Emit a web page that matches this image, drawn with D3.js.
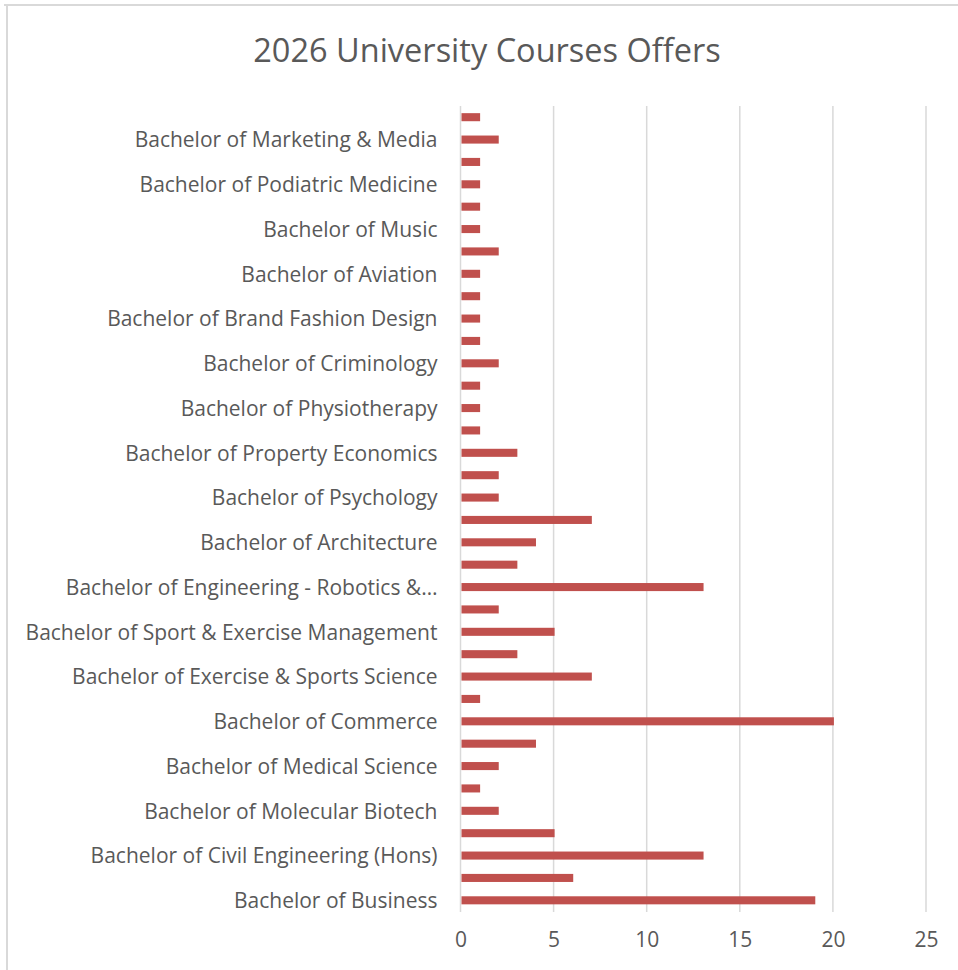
<!DOCTYPE html>
<html>
<head>
<meta charset="utf-8">
<script src="https://cdn.jsdelivr.net/npm/d3@7"></script>
<style>
	body { margin: 0; background: #fff; }
	text { font-family: "Open Sans", "Noto Sans", sans-serif; fill: #595959; }
</style>
</head>
<body>
<svg id="chart" width="958" height="970"></svg>
<script>
// categories listed bottom to top, only every other one gets a visible label
var categories = [
	"Bachelor of Business", "",
	"Bachelor of Civil Engineering (Hons)", "",
	"Bachelor of Molecular Biotech", "",
	"Bachelor of Medical Science", "",
	"Bachelor of Commerce", "",
	"Bachelor of Exercise & Sports Science", "",
	"Bachelor of Sport & Exercise Management", "",
	"Bachelor of Engineering - Robotics &\u2026", "",
	"Bachelor of Architecture", "",
	"Bachelor of Psychology", "",
	"Bachelor of Property Economics", "",
	"Bachelor of Physiotherapy", "",
	"Bachelor of Criminology", "",
	"Bachelor of Brand Fashion Design", "",
	"Bachelor of Aviation", "",
	"Bachelor of Music", "",
	"Bachelor of Podiatric Medicine", "",
	"Bachelor of Marketing & Media", ""
]
var offers = [19, 6, 13, 5, 2, 1, 2, 4, 20, 1, 7, 3, 5, 2, 13, 3, 4, 7,
	2, 2, 3, 1, 1, 1, 2, 1, 1, 1, 1, 2, 1, 1, 1, 1, 2, 1]
var xTicks = [0, 5, 10, 15, 20, 25]
var title = "2026 University Courses Offers"

var svg = d3.select("#chart")

// chart area frame (only top and left edges show in the picture)
svg.append("line").attr("x1", 4).attr("x2", 958).attr("y1", 5).attr("y2", 5)
	.attr("stroke", "#d9d9d9").attr("stroke-width", 2)
svg.append("line").attr("x1", 7).attr("x2", 7).attr("y1", 5).attr("y2", 970)
	.attr("stroke", "#d9d9d9").attr("stroke-width", 2)

svg.append("text")
	.attr("x", 487).attr("y", 62)
	.attr("text-anchor", "middle")
	.style("font-size", "32.5px")
	.text(title)

var xScale = d3.scaleLinear()
	.domain([0, 25])
	.range([460.5, 926]);

var yScale = d3.scaleBand()
	.domain(d3.range(categories.length))
	.range([911.5, 106])
	.paddingInner(0.64)
	.paddingOuter(0.32);

// vertical gridlines
svg.append("g")
	.selectAll("line")
	.data(xTicks)
	.enter().append("line")
		.attr("x1", function(d) { return xScale(d); })
		.attr("x2", function(d) { return xScale(d); })
		.attr("y1", 106)
		.attr("y2", 912)
		.attr("stroke", "#d9d9d9")
		.attr("stroke-width", 1.5);

svg.append("g")
	.selectAll("rect")
	.data(offers)
	.enter().append("rect")
		.attr("x", xScale(0) + 1)
		.attr("y", function(d, i) { return yScale(i); })
		.attr("width", function(d) { return xScale(d) - xScale(0); })
		.attr("height", yScale.bandwidth())
		.attr("fill", "#c0504d");

var yAxis = d3.axisLeft(yScale)
	.tickValues(d3.range(0, categories.length, 2))
	.tickFormat(function(i) { return categories[i]; })
	.tickSize(0)
	.tickPadding(23);

var gy = svg.append("g")
	.attr("transform", "translate(" + xScale(0) + ",1)")
	.call(yAxis);
gy.select(".domain").remove();
gy.selectAll("text").style("font-size", "21px").attr("font-family", null).attr("fill", null);

var xAxis = d3.axisBottom(xScale)
	.tickValues(xTicks)
	.tickSize(0)
	.tickPadding(20);

var gx = svg.append("g")
	.attr("transform", "translate(0,912)")
	.call(xAxis);
gx.select(".domain").remove();
gx.selectAll("text").style("font-size", "21px").attr("font-family", null).attr("fill", null);
</script>
</body>
</html>
